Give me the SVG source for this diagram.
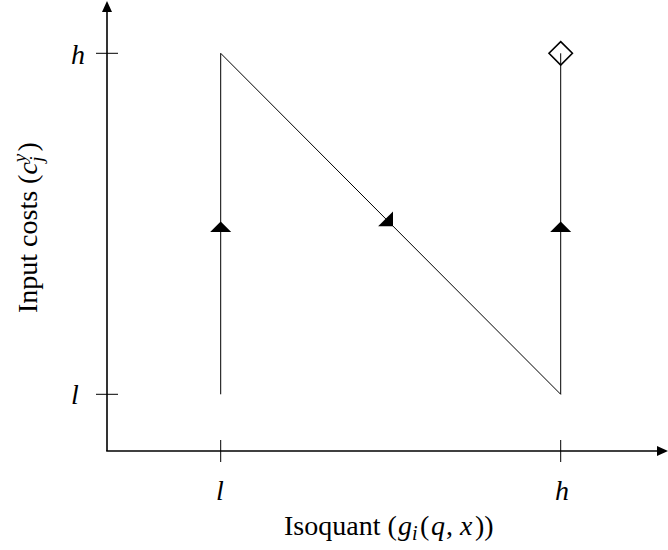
<svg xmlns="http://www.w3.org/2000/svg" width="668" height="550" viewBox="0 0 668 550">
<style>
.axis{stroke:#000;stroke-width:1.6;fill:none}
.tick{stroke:#000;stroke-width:1;fill:none}
.edge{stroke:#000;stroke-width:1;fill:none}
.head{fill:#000;stroke:none}
.lbl{font-family:"Liberation Serif","Times New Roman",serif;font-size:28px;fill:#000}
.it{font-style:italic}
</style>
<defs>
<path id="mid" d="M0,0 L-10.5,-10.5 L-10.5,10.5 Z"/>
<path id="axhead" d="M0,0 L-11,-5 L-11,5 Z"/>
</defs>
<g id="axes">
<line class="axis" x1="107" y1="451" x2="107" y2="10"/>
<line class="axis" x1="106.2" y1="451" x2="658" y2="451"/>
<use href="#axhead" class="head" transform="translate(107,1) rotate(-90)"/>
<use href="#axhead" class="head" transform="translate(668,451)"/>
<line class="tick" x1="96" y1="53.3" x2="118" y2="53.3"/>
<line class="tick" x1="96" y1="394.3" x2="118" y2="394.3"/>
<line class="tick" x1="220.7" y1="440" x2="220.7" y2="462"/>
<line class="tick" x1="560.7" y1="440" x2="560.7" y2="462"/>
</g>
<g id="labels">
<text class="lbl it" x="71" y="64">h</text>
<text class="lbl it" x="71" y="404">l</text>
<text class="lbl it" x="220" y="500" text-anchor="middle">l</text>
<text class="lbl it" x="562" y="500" text-anchor="middle">h</text>
<text class="lbl" x="284" y="535">Isoquant (<tspan class="it" x="398">g</tspan><tspan class="it" font-size="20" x="412" dy="5">i</tspan><tspan x="420" dy="-5">(</tspan><tspan class="it" x="431">q</tspan><tspan x="446">,</tspan><tspan class="it" x="460">x</tspan><tspan x="475">))</tspan></text>
<text class="lbl" x="37" y="313" transform="rotate(-90 37 313)">Input costs (<tspan class="it">c</tspan><tspan class="it" font-size="19" dy="-11">y</tspan><tspan class="it" font-size="19" dx="-8" dy="17">j</tspan><tspan dx="5" dy="-6">)</tspan></text>
</g>
<g id="connectors">
<line class="edge" x1="220.7" y1="394.3" x2="220.7" y2="53.3"/>
<line class="edge" x1="220.7" y1="53.3" x2="560.7" y2="394.3"/>
<line class="edge" x1="560.7" y1="394.3" x2="560.7" y2="53.3"/>
<use href="#mid" class="head" transform="translate(220.7,221.5) rotate(-90)"/>
<use href="#mid" class="head" transform="translate(393,226.3) rotate(45)"/>
<use href="#mid" class="head" transform="translate(560.7,221.5) rotate(-90)"/>
</g>
<g id="node-diamond">
<path d="M560.7,41.6 L572.4,53.3 L560.7,65 L549,53.3 Z" fill="none" stroke="#000" stroke-width="1.6"/>
</g>
</svg>
